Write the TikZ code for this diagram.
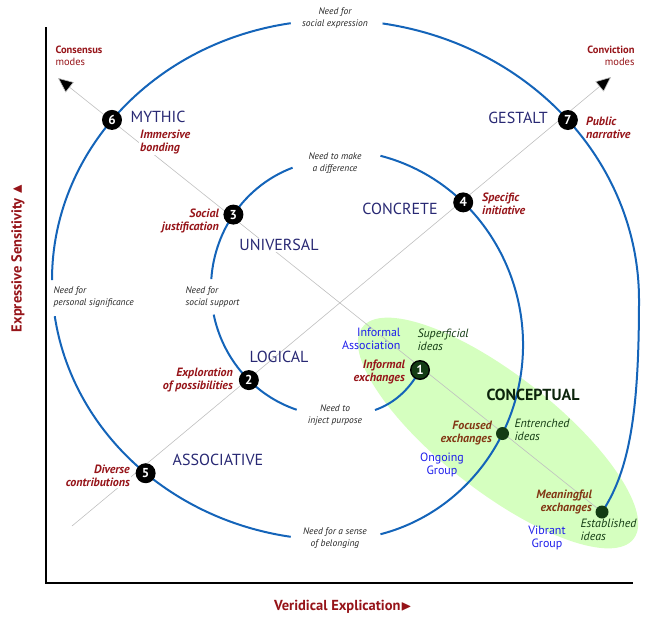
\documentclass[tikz,border=0pt]{standalone}
\usepackage{amssymb}
\usepackage{fontspec}
\setmainfont{PT Sans}
\usetikzlibrary{positioning,arrows.meta}
\definecolor{spiral}{RGB}{20,100,185}
\definecolor{navy}{RGB}{40,40,115}
\definecolor{redlab}{RGB}{150,20,25}
\definecolor{brownlab}{RGB}{130,55,20}
\definecolor{greenlab}{RGB}{20,60,20}
\definecolor{bluelab}{RGB}{30,30,235}
\begin{document}
\begin{tikzpicture}[x=1pt,y=-1pt,
  spir/.style={draw=spiral, line width=2pt},
  ray/.style={draw=gray!50, line width=0.6pt},
  num/.style={circle, fill=black, inner sep=0pt, minimum size=20pt, text=white, font=\bfseries\fontsize{13}{14}\selectfont},
  dotg/.style={circle, fill=greenlab, inner sep=0pt, minimum size=13pt},
  mode/.style={text=navy, font=\fontsize{16}{18}\selectfont},
  act/.style={text=redlab, font=\bfseries\itshape\fontsize{12}{13}\selectfont, align=right, inner sep=1pt, fill=white},
  need/.style={text=gray!30!black, font=\itshape\fontsize{9.5}{11.5}\selectfont, align=center},
  grp/.style={text=bluelab, font=\fontsize{12}{13}\selectfont, align=center},
  idea/.style={text=greenlab, font=\itshape\fontsize{12}{13}\selectfont, align=left}]
  \useasboundingbox (0,0) rectangle (650,625);
  % Group ellipse
  \coordinate (ce) at (498,433);
  \fill[green!55!lime!25, rotate around={-38:(ce)}] (ce) ellipse [x radius=172pt, y radius=58pt];
  % Axes
  \coordinate (o) at (46,583);
  \coordinate (ytop) at (46,27);
  \coordinate (xend) at (633,583);
  \draw[line width=2.4pt] (ytop) -- (o) -- (xend);
  % Centres of the spiral arcs
  \coordinate (cl) at (335,280);
  \coordinate (cr) at (335,300);
  \coordinate (il) at (335,288);
  \coordinate (ir) at (335,345);
  % Spots on the spiral
  \coordinate (p1) at (420,370);
  \coordinate (p2) at ([shift={(226:124pt and 128pt)}]il);
  \coordinate (p3) at ([shift={(145:124pt and 128pt)}]il);
  \coordinate (p4) at ([shift={(47:188pt and 195pt)}]ir);
  \coordinate (p5) at ([shift={(228:283pt and 260pt)}]cl);
  \coordinate (p6) at ([shift={(142:283pt and 260pt)}]cl);
  \coordinate (p7) at ([shift={(40:304pt and 280pt)}]cr);
  \coordinate (pe) at ([shift={(-27:188pt and 195pt)}]ir);
  \coordinate (pf) at (602,512);
  \coordinate (pr) at ([shift={(0:304pt and 280pt)}]cr);
  % Rays
  \coordinate (ca) at (58,78);
  \coordinate (cb) at (611,77);
  \coordinate (cs) at (72,526);
  \draw[ray, -{Triangle[length=15pt,width=13pt,fill=black]}] (pf) -- (ca);
  \draw[ray, -{Triangle[length=15pt,width=13pt,fill=black]}] (cs) -- (cb);
  % Spiral
  \draw[spir] (p1) .. controls (408,392) and (392,404) .. (375,410);
  \draw[spir] (il) ++(252:124pt and 128pt) arc[start angle=252, end angle=192, x radius=124pt, y radius=128pt];
  \draw[spir] (il) ++(176:124pt and 128pt) arc[start angle=176, end angle=110, x radius=124pt, y radius=128pt];
  \draw[spir] (ir) ++(76:188pt and 195pt) arc[start angle=76, end angle=-76, x radius=188pt, y radius=195pt];
  \draw[spir] (cl) ++(261:283pt and 260pt) arc[start angle=261, end angle=188, x radius=283pt, y radius=260pt];
  \draw[spir] (cl) ++(180:283pt and 260pt) arc[start angle=180, end angle=99, x radius=283pt, y radius=260pt];
  \draw[spir] (cr) ++(81:304pt and 280pt) arc[start angle=81, end angle=0, x radius=304pt, y radius=280pt];
  \draw[spir] (pr) .. controls (639,410) and (630,470) .. (pf);
  % Stages
  \node[num] (n1) at (p1) {1};
  \node[num] (n2) at (p2) {2};
  \node[num] (n3) at (p3) {3};
  \node[num] (n4) at (p4) {4};
  \node[num] (n5) at (p5) {5};
  \node[num] (n6) at (p6) {6};
  \node[num] (n7) at (p7) {7};
  \node[num, fill=greenlab, minimum size=17pt] at (p1) {1};
  \node[dotg] (ne) at (pe) {};
  \node[dotg] (nf) at (pf) {};
  % Modes
  \node[mode] (mythic) at (158,117) {MYTHIC};
  \node[mode] (gestalt) at (518,118) {GESTALT};
  \node[mode] (concrete) at (400,209) {CONCRETE};
  \node[mode, fill=white, inner sep=1pt] (universal) at (279,245) {UNIVERSAL};
  \node[mode] (logical) at (279,357) {LOGICAL};
  \node[mode] (associative) at (218,460) {ASSOCIATIVE};
  \node[text=greenlab!60!black, font=\bfseries\fontsize{16}{18}\selectfont] (conceptual) at (533,395) {CONCEPTUAL};
  % Needs
  \node[need] at (335,18) {Need for\\social expression};
  \node[need] at (335,163) {Need to make\\a difference};
  \node[need, align=left, anchor=west] at (50,297) {Need for\\personal significance};
  \node[need, align=left, anchor=west] at (182,297) {Need for\\social support};
  \node[need] at (335,415) {Need to\\inject purpose};
  \node[need] at (335,538) {Need for a sense\\of belonging};
  % Activities
  \node[act, align=left, anchor=west] at (139,142) {Immersive\\bonding};
  \node[act, align=left, anchor=west, fill=none] at (585,128) {Public\\narrative};
  \node[act, align=left, anchor=west, fill=none] at (481,204) {Specific\\initiative};
  \node[act, anchor=east, fill=none] at (220,221) {Social\\justification};
  \node[act, anchor=east, fill=none] at (406,372) {Informal\\exchanges};
  \node[act, anchor=east, fill=none] at (234,380) {Exploration\\of possibilities};
  \node[act, anchor=east, text=brownlab, fill=none] at (493,433) {Focused\\exchanges};
  \node[act, anchor=east] at (131,476) {Diverse\\contributions};
  \node[act, anchor=east, text=brownlab, fill=none] at (593,502) {Meaningful\\exchanges};
  % Groups and ideas
  \node[grp, align=right, anchor=east] at (404,339) {Informal\\Association};
  \node[grp] at (442,465) {Ongoing\\Group};
  \node[grp] at (547,538) {Vibrant\\Group};
  \node[idea, anchor=west] at (414,340) {Superficial\\ideas};
  \node[idea, anchor=west] at (511,430) {Entrenched\\ideas};
  \node[idea, anchor=west] at (577,530) {Established\\ideas};
  % Mode families
  \node[text=redlab, font=\fontsize{10.5}{12}\selectfont, align=left, anchor=west] at (52,56) {\textbf{Consensus}\\modes};
  \node[text=redlab, font=\fontsize{10.5}{12}\selectfont, align=right, anchor=east] at (638,56) {\textbf{Conviction}\\modes};
  % Axis titles
  \node[text=redlab, font=\bfseries\fontsize{14.5}{16}\selectfont, rotate=90] at (18,258) {Expressive Sensitivity $\blacktriangle$};
  \node[text=redlab, font=\bfseries\fontsize{14.5}{16}\selectfont] at (343,607) {Veridical Explication$\blacktriangleright$};
\end{tikzpicture}
\end{document}
